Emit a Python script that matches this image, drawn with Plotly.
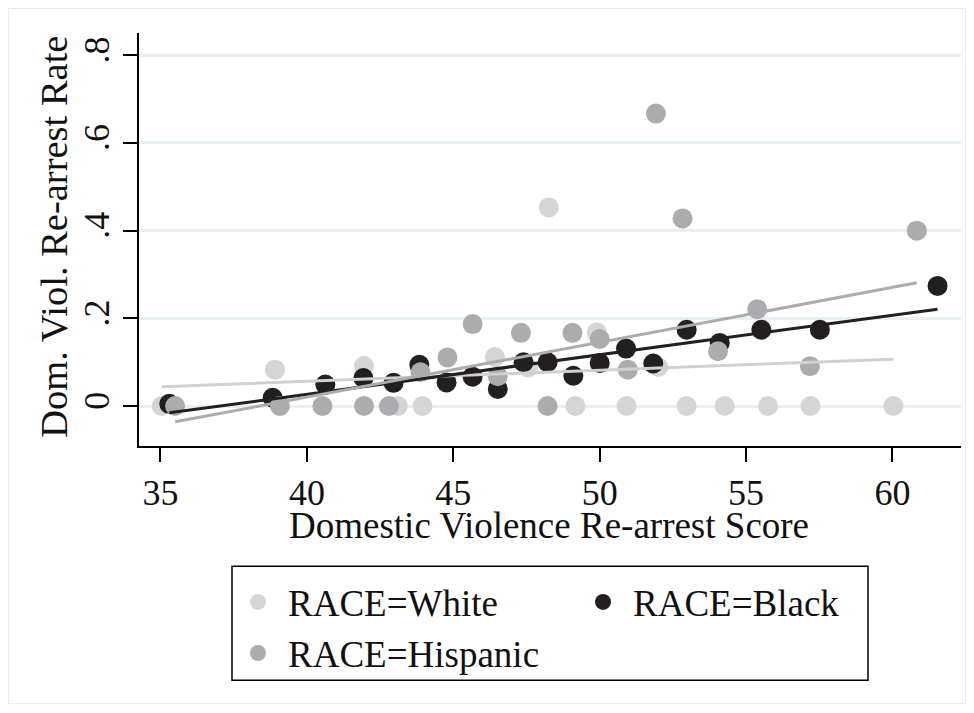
import plotly.graph_objects as go

# ---- data ----
white_x = [35.04, 38.91, 41.95, 43.1, 43.95, 46.42, 47.55, 48.26, 49.17, 49.9, 50.92, 52.0, 52.97, 54.27, 55.75, 57.2, 60.03]
white_y = [0, 0.083, 0.092, 0, 0, 0.112, 0.088, 0.453, 0, 0.168, 0, 0.089, 0, 0, 0, 0, 0]

black_x = [35.3, 38.83, 40.63, 41.93, 42.96, 43.84, 44.77, 45.66, 46.52, 47.4, 48.22, 49.1, 50.0, 50.9, 51.83, 52.97, 54.1, 55.52, 57.52, 61.54]
black_y = [0.005, 0.019, 0.049, 0.064, 0.053, 0.094, 0.054, 0.067, 0.039, 0.1, 0.1, 0.069, 0.098, 0.131, 0.097, 0.174, 0.144, 0.174, 0.174, 0.274]

hisp_x = [35.5, 39.08, 40.53, 41.95, 42.8, 43.88, 44.8, 45.66, 46.52, 47.31, 48.22, 49.07, 50.0, 50.96, 51.92, 52.83, 54.04, 55.38, 57.18, 60.83]
hisp_y = [0, 0, 0, 0, 0, 0.077, 0.111, 0.187, 0.068, 0.167, 0, 0.167, 0.153, 0.083, 0.667, 0.428, 0.125, 0.221, 0.091, 0.4]

# linear fit lines (endpoints)
white_fit_x = [35.04, 60.03]
white_fit_y = [0.044, 0.107]
black_fit_x = [35.3, 61.54]
black_fit_y = [-0.0155, 0.221]
hisp_fit_x = [35.5, 60.83]
hisp_fit_y = [-0.036, 0.281]

x_ticks = [35, 40, 45, 50, 55, 60]
y_ticks = [0, 0.2, 0.4, 0.6, 0.8]
y_tick_text = ["0", ".2", ".4", ".6", ".8"]

names = ["RACE=White", "RACE=Black", "RACE=Hispanic"]
x_title = "Domestic Violence Re-arrest Score"
y_title = "Dom. Viol. Re-arrest Rate"

# ---- styling ----
C_WHITE = "#d4d5d7"
C_HISP = "#abacae"
C_BLACK = "#231f20"
FONT = "Liberation Serif"
FS = 36
TXT = "#111111"

OFF = 8  # page body margin
W, H = 974 - 2 * OFF, 713 - 2 * OFF
# desired plot area in screen px: x 139..961, y 33..446.5
ML, MT = 139 - OFF, 33 - OFF
MR = W - (961 - OFF)
MB = H - (446.5 - OFF)
PW = W - ML - MR
PH = H - MT - MB

def sx(px):  # screen px -> paper x
    return (px - OFF - ML) / PW

def sy(py):  # screen px -> paper y
    return (H - MB - (py - OFF)) / PH

fig = go.Figure()
for xs, ys, c, n in [(white_x, white_y, C_WHITE, names[0]),
                     (black_x, black_y, C_BLACK, names[1]),
                     (hisp_x, hisp_y, C_HISP, names[2])]:
    fig.add_trace(go.Scatter(x=xs, y=ys, mode="markers", name=n,
                             marker=dict(color=c, size=20, line=dict(width=0))))

for xs, ys, c in [(white_fit_x, white_fit_y, "#cfd0d2"),
                  (black_fit_x, black_fit_y, C_BLACK),
                  (hisp_fit_x, hisp_fit_y, C_HISP)]:
    fig.add_trace(go.Scatter(x=xs, y=ys, mode="lines", showlegend=False,
                             line=dict(color=c, width=3), hoverinfo="skip"))

fig.update_layout(
    width=W, height=H,
    margin=dict(l=ML, r=MR, t=MT, b=MB, autoexpand=False),
    paper_bgcolor="white", plot_bgcolor="white",
    font=dict(family=FONT, size=FS, color=TXT),
    showlegend=True,
    legend=dict(orientation="h", x=sx(228), y=sy(572),
                xanchor="left", yanchor="top", entrywidth=280, itemwidth=50,
                bgcolor="rgba(0,0,0,0)", borderwidth=0,
                font=dict(family=FONT, size=37, color=TXT),
                itemsizing="trace", traceorder="normal"),
    xaxis=dict(range=[34.266, 62.34], tickvals=x_ticks, showgrid=False,
               zeroline=False, showline=True, linecolor="black", linewidth=1.5,
               ticks="outside", ticklen=14, tickwidth=1.5, tickcolor="black",
               tickfont=dict(family=FONT, size=FS, color=TXT)),
    yaxis=dict(range=[-0.0911, 0.8508], tickvals=y_ticks, ticktext=y_tick_text,
               tickangle=-90, showgrid=True, gridcolor="#eaf0f2", gridwidth=2.5,
               zeroline=False, showline=True, linecolor="black", linewidth=1.5,
               ticks="outside", ticklen=14, tickwidth=1.5, tickcolor="black",
               ticklabelstandoff=0,
               tickfont=dict(family=FONT, size=FS, color=TXT)),
    annotations=[
        dict(text=x_title, xref="paper", yref="paper", x=sx(549), y=sy(526),
             showarrow=False, xanchor="center", yanchor="middle",
             font=dict(family=FONT, size=37, color=TXT)),
        dict(text=y_title, xref="paper", yref="paper", x=sx(54), y=sy(237),
             showarrow=False, xanchor="center", yanchor="middle", textangle=-90,
             font=dict(family=FONT, size=38.5, color=TXT)),
    ],
    shapes=[
        dict(type="rect", xref="paper", yref="paper",
             x0=sx(232), x1=sx(868), y0=sy(681), y1=sy(567),
             line=dict(color="black", width=1.5), fillcolor="rgba(0,0,0,0)", layer="above"),
        dict(type="rect", xref="paper", yref="paper",
             x0=sx(8.5), x1=sx(965.5), y0=sy(704.5), y1=sy(8.5),
             line=dict(color="#e6ecee", width=1), fillcolor="rgba(0,0,0,0)", layer="below"),
    ],
)

fig.write_html("out.html")
